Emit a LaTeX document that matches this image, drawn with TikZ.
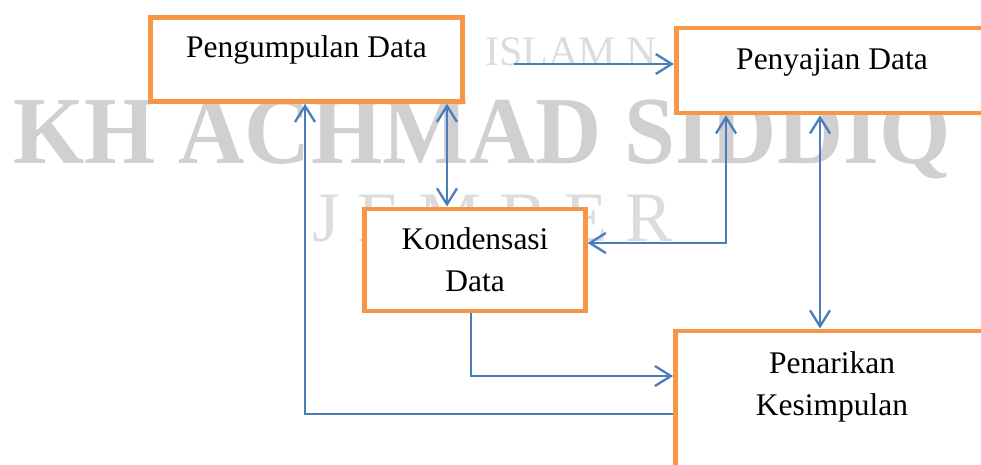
\documentclass[tikz,border=0pt]{standalone}
\usepackage{fontspec}
\setmainfont{Liberation Serif}
\usetikzlibrary{arrows.meta}
\definecolor{boxorange}{HTML}{F79646}
\definecolor{lineblue}{HTML}{4A7EBB}
\definecolor{wmgray}{HTML}{D0D0D0}
\definecolor{wmlight}{HTML}{DCDCDC}

\begin{document}
\begin{tikzpicture}[
    x=1pt, y=-1pt,
    block/.style={draw=boxorange, fill=white, line width=4.8pt,
      inner sep=0pt, anchor=north, align=center,
      font=\fontsize{31.5}{42.3}\selectfont},
    arrow/.style={-{Straight Barb[length=16pt,width=20pt]},
      draw=lineblue, line width=2.3pt},
    biarrow/.style={arrow,
      {Straight Barb[length=16pt,width=20pt]}-{Straight Barb[length=16pt,width=20pt]}},
    wmark/.style={text=wmgray, inner sep=0pt, anchor=base west}
  ]
    \useasboundingbox (0,0) rectangle (981,464);
    \clip (0,0) rectangle (981,464);
    % watermark behind the boxes
    \node[wmark, xscale=0.955, transform shape, font=\bfseries\fontsize{96}{96}\selectfont] (wmkh) at (13,163) {KH ACHMAD SIDDIQ};
    \node[wmark, text=wmlight, font=\fontsize{71}{71}\selectfont] (wmjember) at (312,241) {J E M B E R};
    \node[wmark, text=wmlight, font=\fontsize{42}{42}\selectfont] (wmislam) at (485,65) {ISLAM N};
    % boxes
    \node[block, minimum width=312pt, text height=40pt, text depth=44pt] (collect) at (306.5,15) {Pengumpulan Data};
    \node[block, minimum width=311.5pt, text height=41.2pt, text depth=43.8pt] (display) at (832,25.5) {Penyajian Data};
    \node[block, text width=220.5pt, text height=40.2pt, text depth=61.8pt] (reduce) at (475,206.5) {Kondensasi\\Data};
    \node[block, text width=313pt, text height=42.2pt, text depth=150pt] (conclude) at (832,328.5) {Penarikan\\Kesimpulan};
    % connectors
    \coordinate (start) at (514,64);
    \draw[arrow] (start) -- (start -| display.west);
    \draw[biarrow] (collect.south -| 447,0) -- (reduce.north -| 447,0);
    \draw[biarrow] (reduce.east |- 0,243) -| (display.south -| 726,0);
    \draw[biarrow] (display.south -| 820,0) -- (conclude.north -| 820,0);
    \draw[arrow] (reduce.south -| 471,0) |- (conclude.west |- 0,376);
    \draw[arrow] (conclude.west |- 0,414) -| (collect.south -| 305,0);
  \end{tikzpicture}
\end{document}
